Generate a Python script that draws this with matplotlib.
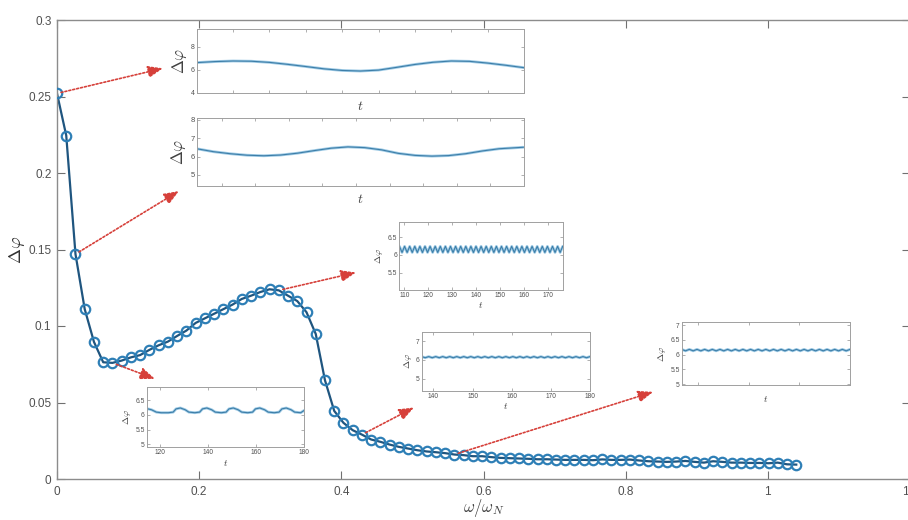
import numpy as np
import matplotlib
matplotlib.use('Agg')
import matplotlib.pyplot as plt

plt.rcParams['font.family'] = ['Liberation Sans', 'DejaVu Sans']
plt.rcParams['mathtext.fontset'] = 'cm'

# ---------------- main data ----------------
omega = np.linspace(0.0, 1.04, 81)
delta_phi = [0.252, 0.2245, 0.147, 0.111, 0.0896, 0.0763, 0.0759, 0.0774, 0.0795, 0.0810,
             0.0844, 0.0874, 0.0898, 0.0935, 0.0970, 0.1020, 0.1050, 0.1080, 0.1110, 0.1140,
             0.1177, 0.1198, 0.1222, 0.1240, 0.1233, 0.1198, 0.1163, 0.1090, 0.0948, 0.0645,
             0.0445, 0.0367, 0.0319, 0.0290, 0.0258, 0.0243, 0.0225, 0.0210, 0.0199, 0.0188,
             0.0180, 0.0175, 0.0169, 0.0160, 0.0156, 0.0149, 0.0149, 0.0143, 0.0138, 0.0136,
             0.0134, 0.0132, 0.0129, 0.0129, 0.0127, 0.0125, 0.0125, 0.0125, 0.0123, 0.0128,
             0.0125, 0.0125, 0.0127, 0.0121, 0.0116, 0.0114, 0.0112, 0.0114, 0.0118, 0.0112,
             0.0107, 0.0116, 0.0112, 0.0107, 0.0107, 0.0105, 0.0105, 0.0103, 0.0107, 0.0096,
             0.0094]
x_ticks = [0, 0.2, 0.4, 0.6, 0.8, 1.0, 1.2]
x_ticklabels = ['0', '0.2', '0.4', '0.6', '0.8', '1', '1.2']
y_ticks = [0, 0.05, 0.1, 0.15, 0.2, 0.25, 0.3]
y_ticklabels = ['0', '0.05', '0.1', '0.15', '0.2', '0.25', '0.3']

# ---------------- inset data ----------------
# A (top)
A_t = [0, 0.5, 1, 1.5, 2, 2.5, 3, 3.5, 4, 4.5, 5, 5.5, 6, 6.5, 7, 7.5, 8, 8.5, 9]
A_y = [6.61, 6.70, 6.75, 6.73, 6.63, 6.46, 6.27, 6.07, 5.93, 5.88, 5.96, 6.20, 6.45,
       6.64, 6.75, 6.72, 6.57, 6.38, 6.17]
# B (second)
B_t = [0, 0.5, 1, 1.5, 2, 2.5, 3, 3.5, 4, 4.5, 5, 5.5, 6, 6.5, 7, 7.5, 8, 8.5, 9, 9.72]
B_y = [6.42, 6.26, 6.15, 6.07, 6.04, 6.08, 6.18, 6.32, 6.45, 6.52, 6.48, 6.36, 6.17,
       6.06, 6.02, 6.05, 6.15, 6.30, 6.42, 6.50]
# C (fast oscillation, turning points)
C_t = np.linspace(108, 176, 65)
C_y = [6.24, 6.07, 6.24, 6.07, 6.24, 6.07, 6.24, 6.07, 6.24, 6.07, 6.24, 6.07, 6.24,
       6.07, 6.24, 6.07, 6.24, 6.07, 6.24, 6.07, 6.24, 6.07, 6.24, 6.07, 6.24, 6.07,
       6.24, 6.07, 6.24, 6.07, 6.24, 6.07, 6.24, 6.07, 6.24, 6.07, 6.24, 6.07, 6.24,
       6.07, 6.24, 6.07, 6.24, 6.07, 6.24, 6.07, 6.24, 6.07, 6.24, 6.07, 6.24, 6.07,
       6.24, 6.07, 6.24, 6.07, 6.24, 6.07, 6.24, 6.07, 6.24, 6.07, 6.24, 6.07, 6.24]
# D (bottom middle, small wiggles)
D_t = np.linspace(137, 180, 49)
D_y = [6.17, 6.11, 6.17, 6.11, 6.17, 6.11, 6.17, 6.11, 6.17, 6.11, 6.17, 6.11, 6.17,
       6.11, 6.17, 6.11, 6.17, 6.11, 6.17, 6.11, 6.17, 6.11, 6.17, 6.11, 6.17, 6.11,
       6.17, 6.11, 6.17, 6.11, 6.17, 6.11, 6.17, 6.11, 6.17, 6.11, 6.17, 6.11, 6.17,
       6.11, 6.17, 6.11, 6.17, 6.11, 6.17, 6.11, 6.17, 6.11, 6.17]
# E (right, nearly flat)
E_t = np.linspace(0.68, 4.0, 45)
E_y = [6.18, 6.13, 6.18, 6.13, 6.18, 6.13, 6.18, 6.13, 6.18, 6.13, 6.18, 6.13, 6.18,
       6.13, 6.18, 6.13, 6.18, 6.13, 6.18, 6.13, 6.18, 6.13, 6.18, 6.13, 6.18, 6.13,
       6.18, 6.13, 6.18, 6.13, 6.18, 6.13, 6.18, 6.13, 6.18, 6.13, 6.18, 6.13, 6.18,
       6.13, 6.18, 6.13, 6.18, 6.13, 6.18]
# F (bottom left, humped wave)
F_t = [114.5, 116.5, 118.5, 120.5, 123.5, 125.5, 126.7, 128.5, 130.5, 132.0, 134.5,
       136.5, 137.7, 139.5, 141.5, 143.0, 145.5, 147.5, 148.7, 150.5, 152.5, 154.0,
       156.5, 158.5, 159.7, 161.5, 163.5, 165.0, 167.5, 169.5, 170.7, 172.5, 174.5,
       176.0, 178.5, 180.0]
F_y = [6.21, 6.17, 6.09, 6.07, 6.07, 6.09, 6.20, 6.23, 6.17, 6.09, 6.07, 6.09, 6.20,
       6.23, 6.17, 6.09, 6.07, 6.09, 6.20, 6.23, 6.17, 6.09, 6.07, 6.09, 6.20, 6.23,
       6.17, 6.09, 6.07, 6.09, 6.20, 6.23, 6.17, 6.09, 6.07, 6.15]

# ---------------- styles ----------------
LINE_C = '#1f557f'
MARK_C = '#2e7fb6'
SPINE_C = '#8c8c8c'
TXT_C = '#505050'
ARROW_C = '#d6403a'
IN_LIGHT = '#9fcbe6'
IN_DARK = '#3d7ea8'

W, H = 908, 520
fig = plt.figure(figsize=(W / 100, H / 100), dpi=100)
ax = fig.add_axes([57 / W, 41 / H, 853 / W, 459 / H])
ax.plot(omega, delta_phi, '-', color=LINE_C, lw=1.6, zorder=2)
ax.plot(omega, delta_phi, 'o', mfc='none', mec=MARK_C, ms=6.8, mew=1.6, zorder=3)
ax.set_xlim(0, 1.2)
ax.set_ylim(0, 0.3)
ax.set_xticks(x_ticks)
ax.set_xticklabels(x_ticklabels)
ax.set_yticks(y_ticks)
ax.set_yticklabels(y_ticklabels)
ax.tick_params(direction='in', top=True, right=True, length=6, width=0.8,
               color='#707070', labelcolor=TXT_C, labelsize=8.5)
ax.tick_params(axis='x', pad=5)
ax.tick_params(axis='y', pad=4)
for s in ax.spines.values():
    s.set_color(SPINE_C)
    s.set_linewidth(1.0)
ax.set_xlabel(r'$\omega/\omega_N$', fontsize=12, color='#404040', va='center')
ax.xaxis.set_label_coords(0.5, (479 - 508) / 459)
ax.set_ylabel(r'$\Delta\varphi$', fontsize=13, color='#303030', va='center')
ax.yaxis.set_label_coords((17 - 57) / 853, 0.5)


def make_inset(px_left, px_top, px_right, px_bottom, t, y, xlim, ylim, xticks, yticks,
               xlabels=True, ylabel_size=6, tlabel_size=6, tick_size=4.6, tlabelpad=1):
    iax = fig.add_axes([px_left / W, 1 - px_bottom / H, (px_right - px_left) / W,
                        (px_bottom - px_top) / H])
    iax.plot(t, y, color=IN_LIGHT, lw=2.0, solid_capstyle='round')
    iax.plot(t, y, color=IN_DARK, lw=0.8)
    iax.set_xlim(*xlim)
    iax.set_ylim(*ylim)
    iax.set_xticks(xticks)
    iax.set_yticks(yticks)
    iax.set_yticklabels([('%g' % v) for v in yticks])
    if xlabels:
        iax.set_xticklabels([('%g' % v) for v in xticks])
    else:
        iax.set_xticklabels([])
    iax.tick_params(direction='in', top=True, right=True, length=2.5, width=0.5,
                    color='#909090', labelcolor=TXT_C, labelsize=tick_size, pad=1.5)
    for s in iax.spines.values():
        s.set_color('#a0a0a0')
        s.set_linewidth(0.7)
    iax.set_xlabel(r'$t$', fontsize=tlabel_size, color='#404040', labelpad=tlabelpad)
    iax.set_ylabel(r'$\Delta\varphi$', fontsize=ylabel_size, color='#404040', labelpad=1.5)
    return iax


axA = make_inset(196.7, 29.3, 524, 92.7, A_t, A_y, (0, 9), (4, 9.5),
                 list(range(0, 10)), [4, 6, 8], xlabels=False,
                 ylabel_size=12, tlabel_size=10, tick_size=5, tlabelpad=3)
axB = make_inset(196.7, 117.7, 524, 185.7, B_t, B_y, (0, 9.72), (4.42, 8.1),
                 [0.74 + k for k in range(10)], [5, 6, 7, 8], xlabels=False,
                 ylabel_size=12, tlabel_size=10, tick_size=5.5, tlabelpad=3)
axC = make_inset(399, 221.7, 562.7, 290, C_t, C_y, (107.8, 176), (5.02, 6.93),
                 [110, 120, 130, 140, 150, 160, 170], [5.5, 6, 6.5],
                 ylabel_size=7, tlabel_size=7, tick_size=4.8)
axD = make_inset(421.7, 331.7, 590, 390.7, D_t, D_y, (137, 180), (4.35, 7.5),
                 [140, 150, 160, 170, 180], [5, 6, 7],
                 ylabel_size=7, tlabel_size=7, tick_size=4.8)
axE = make_inset(681.7, 322.3, 850, 385, E_t, E_y, (0.68, 4.0), (4.97, 7.1),
                 [1, 2, 3, 4], [5, 5.5, 6, 6.5, 7], xlabels=False,
                 ylabel_size=7, tlabel_size=7, tick_size=4.8, tlabelpad=5)
axF = make_inset(146.7, 387.3, 304.3, 447.3, F_t, F_y, (114.5, 180), (4.9, 6.93),
                 [120, 140, 160, 180], [5, 5.5, 6, 6.5],
                 ylabel_size=7, tlabel_size=7, tick_size=4.8)

# arrows: (index of source point, target inset, tip in inset-axes fraction)
arrow_src = [0, 2, 6, 24, 33, 43]
arrow_dst = [axA, axB, axF, axC, axD, axE]
arrow_tip = [(-0.103, 0.385), (-0.054, -0.078), (0.053, 1.14),
             (-0.263, 0.256), (-0.046, -0.285), (-0.17, -0.11)]
for i, dst, tip in zip(arrow_src, arrow_dst, arrow_tip):
    ax.annotate('', xy=tip, xycoords=dst.transAxes,
                xytext=(omega[i], delta_phi[i]), textcoords='data',
                arrowprops=dict(arrowstyle='-|>,head_length=0.9,head_width=0.35',
                                color=ARROW_C, lw=1.2, linestyle=(0, (1.2, 1.2)),
                                shrinkA=3, shrinkB=0),
                zorder=4)

fig.savefig('out.png', dpi=100)
